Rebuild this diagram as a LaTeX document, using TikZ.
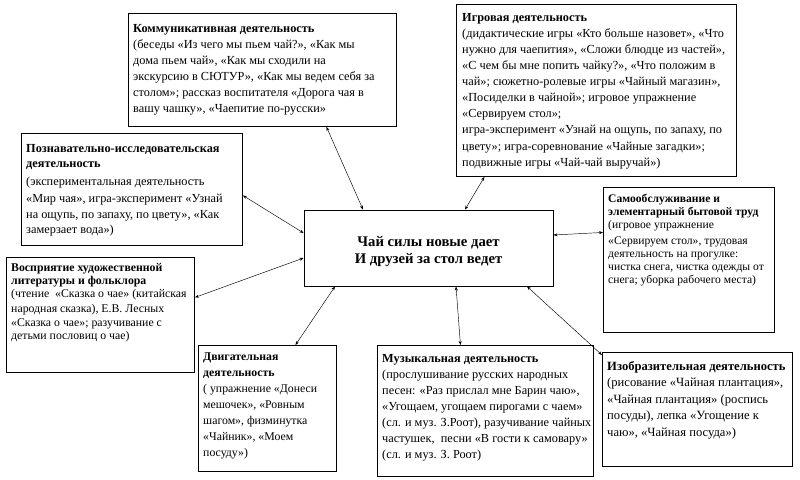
\documentclass[tikz,border=0pt]{standalone}
\usepackage{fontspec}
\setmainfont{Liberation Serif}
\usetikzlibrary{arrows.meta}

\begin{document}
\begin{tikzpicture}[x=1pt,y=-1pt,
    blocco/.style={draw, line width=0.9pt, inner sep=0pt, anchor=north west},
    testo/.style 2 args={anchor=north west, inner sep=0pt, align=left, font=\fontsize{#1}{#2}\selectfont},
    legame/.style={{Stealth[length=4pt,width=3pt]}-{Stealth[length=4pt,width=3pt]}, line width=0.45pt}]

\useasboundingbox (0,0) rectangle (800,479);

% Blocchi
\foreach \nome/\x/\y/\w/\h in {com/128/13/268/113, igr/456/4/280/172, poz/21/133/221/112,
    vos/6/257/188/115, sam/603/187/171/145, dvi/198/345/138/126, muz/377/345/216/131, izo/602/352/190/114}
    \node[blocco, minimum width=\w pt, minimum height=\h pt] (\nome) at (\x,\y) {};

% Centro
\node[draw, line width=0.9pt, minimum width=249pt, minimum height=76pt] (centro) at (428.5,248) {};
\node[align=center, inner sep=0pt, font=\fontsize{14.7}{16.6}\selectfont\bfseries] (centro-t)
    at (428.5,251.5) {Чай силы новые дает\\И друзей за стол ведет};

% Testi
\node[testo={12.3}{16}] (com-t) at ([shift={(5,11)}]com.north west)
    {\textbf{Коммуникативная деятельность}\\
    (беседы «Из чего мы пьем чай?», «Как мы\\
    дома пьем чай», «Как мы сходили на\\
    экскурсию в СЮТУР», «Как мы ведем себя за\\
    столом»; рассказ воспитателя «Дорога чая в\\
    вашу чашку», «Чаепитие по-русски»};
\node[testo={12.3}{16.1}] (igr-t) at ([shift={(6,9)}]igr.north west)
    {\textbf{Игровая деятельность}\\
    (дидактические игры «Кто больше назовет», «Что\\
    нужно для чаепития», «Сложи блюдце из частей»,\\
    «С чем бы мне попить чайку?», «Что положим в\\
    чай»; сюжетно-ролевые игры «Чайный магазин»,\\
    «Посиделки в чайной»; игровое упражнение\\
    «Сервируем стол»;\\
    игра-эксперимент «Узнай на ощупь, по запаху, по\\
    цвету»; игра-соревнование «Чайные загадки»;\\
    подвижные игры «Чай-чай выручай»)};
\node[testo={12.3}{15.7}] (poz-t) at ([shift={(5,11)}]poz.north west)
    {\textbf{Познавательно-исследовательская}\\
    \textbf{деятельность}\\[1.5pt]
    (экспериментальная деятельность\\[1.5pt]
    «Мир чая», игра-эксперимент «Узнай\\
    на ощупь, по запаху, по цвету», «Как\\
    замерзает вода»)};
\node[testo={11.8}{13.2}] (vos-t) at ([shift={(5,6)}]vos.north west)
    {\textbf{Восприятие художественной}\\
    \textbf{литературы и фольклора}\\
    (чтение\ \ «Сказка о чае» (китайская\\[2pt]
    народная сказка), Е.В. Лесных\\
    «Сказка о чае»; разучивание с\\
    детьми пословиц о чае)};
\node[testo={11.6}{13}] (sam-t) at ([shift={(5,7)}]sam.north west)
    {\textbf{Самообслуживание и}\\
    \textbf{элементарный бытовой труд}\\
    (игровое упражнение\\[3pt]
    «Сервируем стол», трудовая\\
    деятельность на прогулке:\\
    чистка снега, чистка одежды от\\
    снега; уборка рабочего места)};
\node[testo={11.8}{16}] (dvi-t) at ([shift={(5,7.5)}]dvi.north west)
    {\textbf{Двигательная}\\
    \textbf{деятельность}\\
    ( упражнение «Донеси\\
    мешочек», «Ровным\\
    шагом», физминутка\\
    «Чайник», «Моем\\
    посуду»)};
\node[testo={12.3}{16}] (muz-t) at ([shift={(5,9)}]muz.north west)
    {\textbf{Музыкальная деятельность}\\
    (прослушивание русских народных\\
    песен: «Раз прислал мне Барин чаю»,\\
    «Угощаем, угощаем пирогами с чаем»\\
    (сл. и муз. З.Роот), разучивание чайных\\
    частушек,\ \ песни «В гости к самовару»\\
    (сл. и муз. З. Роот)};
\node[testo={12.6}{16.5}] (izo-t) at ([shift={(5,9)}]izo.north west)
    {\textbf{Изобразительная деятельность}\\
    (рисование «Чайная плантация»,\\
    «Чайная плантация» (роспись\\
    посуды), лепка «Угощение к\\
    чаю», «Чайная посуда»)};

% Collegamenti
\draw[legame] ([xshift=64pt]com.south) -- ([xshift=-65.5pt]centro.north);
\draw[legame] ([xshift=-112pt]igr.south) -- ([xshift=36.5pt]centro.north);
\draw[legame] ([yshift=-6pt]poz.east) -- ([yshift=15pt]centro.west);
\draw[legame] ([yshift=17.5pt]vos.east) -- ([yshift=-10pt]centro.west);
\draw[legame] ([yshift=27.5pt]sam.west) -- ([yshift=13pt]centro.east);
\draw[legame] ([xshift=28pt]dvi.north) -- ([xshift=-93.5pt]centro.south);
\draw[legame] ([xshift=-25pt]muz.north) -- ([xshift=27.5pt]centro.south);
\draw[legame] ([yshift=-3pt]izo.north west) -- ([xshift=98.5pt]centro.south);
\end{tikzpicture}
\end{document}
